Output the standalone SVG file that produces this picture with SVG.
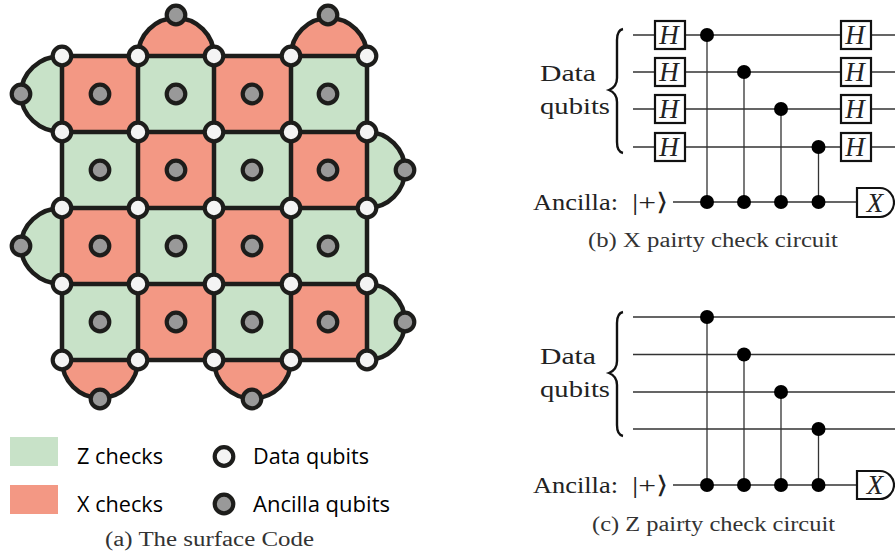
<svg xmlns="http://www.w3.org/2000/svg" width="895" height="558" viewBox="0 0 895 558">
<style>
.z{fill:#c8e2c8}.x{fill:#f39884}
.edge{fill:none;stroke:#1d1d1b;stroke-width:4.5}
.d{fill:#f4f4f4;stroke:#1d1d1b;stroke-width:4.2}
.a{fill:#999;stroke:#1d1d1b;stroke-width:4.2}
.w{fill:none;stroke:#333;stroke-width:1.3}
.box{fill:#fff;stroke:#111;stroke-width:2.2}
.dot{fill:#000}
.b{fill:none;stroke:#111;stroke-width:2.4}
.cm{font-family:"Liberation Serif",serif;fill:#222;font-size:24px}
.cap{font-family:"Liberation Serif",serif;fill:#333;font-size:20px}
.h{font-family:"Liberation Serif",serif;font-style:italic;font-size:27px;fill:#222;text-anchor:middle}
.leg{font-family:"Open Sans",sans-serif;font-size:21.5px;fill:#000}
</style>
<g id="plaquettes">
<path class="x" d="M138 56A38 38 0 0 1 214 56Z"/><path class="x" d="M291 56A38 38 0 0 1 367 56Z"/>
<path class="z" d="M62 56A41 38 0 0 0 62 132Z"/><path class="z" d="M62 208A41 38 0 0 0 62 284Z"/>
<path class="z" d="M367 132A38 38 0 0 1 367 208Z"/><path class="z" d="M367 284A38 38 0 0 1 367 360Z"/>
<path class="x" d="M62 360A38 38 0 0 0 138 360Z"/><path class="x" d="M214 360A38 38 0 0 0 291 360Z"/>
<rect class="x" x="62" y="56" width="76" height="76"/><rect class="z" x="138" y="56" width="76" height="76"/><rect class="x" x="214" y="56" width="77" height="76"/><rect class="z" x="291" y="56" width="76" height="76"/>
<rect class="z" x="62" y="132" width="76" height="76"/><rect class="x" x="138" y="132" width="76" height="76"/><rect class="z" x="214" y="132" width="77" height="76"/><rect class="x" x="291" y="132" width="76" height="76"/>
<rect class="x" x="62" y="208" width="76" height="76"/><rect class="z" x="138" y="208" width="76" height="76"/><rect class="x" x="214" y="208" width="77" height="76"/><rect class="z" x="291" y="208" width="76" height="76"/>
<rect class="z" x="62" y="284" width="76" height="76"/><rect class="x" x="138" y="284" width="76" height="76"/><rect class="z" x="214" y="284" width="77" height="76"/><rect class="x" x="291" y="284" width="76" height="76"/>
</g>
<g id="connectors">
<path class="edge" d="M62 56H367M62 132H367M62 208H367M62 284H367M62 360H367M62 56V360M138 56V360M214 56V360M291 56V360M367 56V360"/>
<path class="edge" d="M138 56A38 38 0 0 1 214 56M291 56A38 38 0 0 1 367 56M62 56A41 38 0 0 0 62 132M62 208A41 38 0 0 0 62 284M367 132A38 38 0 0 1 367 208M367 284A38 38 0 0 1 367 360M62 360A38 38 0 0 0 138 360M214 360A38 38 0 0 0 291 360"/>
</g>
<g id="data-qubits">
<circle class="d" cx="62" cy="56" r="9.3"/><circle class="d" cx="138" cy="56" r="9.3"/><circle class="d" cx="214" cy="56" r="9.3"/><circle class="d" cx="291" cy="56" r="9.3"/><circle class="d" cx="367" cy="56" r="9.3"/>
<circle class="d" cx="62" cy="132" r="9.3"/><circle class="d" cx="138" cy="132" r="9.3"/><circle class="d" cx="214" cy="132" r="9.3"/><circle class="d" cx="291" cy="132" r="9.3"/><circle class="d" cx="367" cy="132" r="9.3"/>
<circle class="d" cx="62" cy="208" r="9.3"/><circle class="d" cx="138" cy="208" r="9.3"/><circle class="d" cx="214" cy="208" r="9.3"/><circle class="d" cx="291" cy="208" r="9.3"/><circle class="d" cx="367" cy="208" r="9.3"/>
<circle class="d" cx="62" cy="284" r="9.3"/><circle class="d" cx="138" cy="284" r="9.3"/><circle class="d" cx="214" cy="284" r="9.3"/><circle class="d" cx="291" cy="284" r="9.3"/><circle class="d" cx="367" cy="284" r="9.3"/>
<circle class="d" cx="62" cy="360" r="9.3"/><circle class="d" cx="138" cy="360" r="9.3"/><circle class="d" cx="214" cy="360" r="9.3"/><circle class="d" cx="291" cy="360" r="9.3"/><circle class="d" cx="367" cy="360" r="9.3"/>
</g>
<g id="ancilla-qubits">
<circle class="a" cx="176" cy="15" r="9.3"/><circle class="a" cx="328" cy="15" r="9.3"/>
<circle class="a" cx="21" cy="94" r="9.3"/><circle class="a" cx="21" cy="246" r="9.3"/>
<circle class="a" cx="405" cy="170" r="9.3"/><circle class="a" cx="405" cy="322" r="9.3"/>
<circle class="a" cx="100" cy="399" r="9.3"/><circle class="a" cx="252" cy="399" r="9.3"/>
<circle class="a" cx="100" cy="94" r="9.3"/><circle class="a" cx="176" cy="94" r="9.3"/><circle class="a" cx="252" cy="94" r="9.3"/><circle class="a" cx="328" cy="94" r="9.3"/>
<circle class="a" cx="100" cy="170" r="9.3"/><circle class="a" cx="176" cy="170" r="9.3"/><circle class="a" cx="252" cy="170" r="9.3"/><circle class="a" cx="328" cy="170" r="9.3"/>
<circle class="a" cx="100" cy="246" r="9.3"/><circle class="a" cx="176" cy="246" r="9.3"/><circle class="a" cx="252" cy="246" r="9.3"/><circle class="a" cx="328" cy="246" r="9.3"/>
<circle class="a" cx="100" cy="322" r="9.3"/><circle class="a" cx="176" cy="322" r="9.3"/><circle class="a" cx="252" cy="322" r="9.3"/><circle class="a" cx="328" cy="322" r="9.3"/>
</g>
<g id="legend">
<rect class="z" x="10" y="437" width="48" height="29"/><rect class="x" x="10" y="485" width="48" height="29"/>
<circle class="d" cx="224" cy="456.500" r="9.300"/><circle class="a" cx="224" cy="504" r="9.300"/>
<text class="leg" x="77" y="464" textLength="86" lengthAdjust="spacingAndGlyphs">Z checks</text>
<text class="leg" x="77" y="512" textLength="86" lengthAdjust="spacingAndGlyphs">X checks</text>
<text class="leg" x="253" y="464" textLength="116" lengthAdjust="spacingAndGlyphs">Data qubits</text>
<text class="leg" x="253" y="512" textLength="137" lengthAdjust="spacingAndGlyphs">Ancilla qubits</text>
<text class="cap" x="105" y="546" textLength="209" lengthAdjust="spacingAndGlyphs">(a) The surface Code</text>
</g>
<g id="circuit-b">
<path class="w" d="M633 35H895M633 72H895M633 109H895M633 147H895M673 202H857M707 35V202M744 72V202M781 109V202M818.500 147V202"/>
<g class="dot"><circle cx="707" cy="35" r="7"/><circle cx="744" cy="72" r="7"/><circle cx="781" cy="109" r="7"/><circle cx="818.500" cy="147" r="7"/><circle cx="707" cy="202" r="7"/><circle cx="744" cy="202" r="7"/><circle cx="781" cy="202" r="7"/><circle cx="818.500" cy="202" r="7"/></g>
<g id="h-gates-b">
<rect class="box" x="655" y="21" width="30" height="28"/><rect class="box" x="655" y="58" width="30" height="28"/><rect class="box" x="655" y="95" width="30" height="28"/><rect class="box" x="655" y="133" width="30" height="28"/>
<rect class="box" x="841" y="21" width="30" height="28"/><rect class="box" x="841" y="58" width="30" height="28"/><rect class="box" x="841" y="95" width="30" height="28"/><rect class="box" x="841" y="133" width="30" height="28"/>
<text class="h" x="669" y="44">H</text><text class="h" x="669" y="81">H</text><text class="h" x="669" y="118">H</text><text class="h" x="669" y="156">H</text>
<text class="h" x="855" y="44">H</text><text class="h" x="855" y="81">H</text><text class="h" x="855" y="118">H</text><text class="h" x="855" y="156">H</text>
</g>
<path class="box" d="M857 188H880C888 188 894 195 894 202.500C894 210 888 217 880 217H857Z"/>
<text class="h" x="875" y="212">X</text>
<path class="b" d="M623 29C618 30 617 34 617 40V78C617 84 614 88 609 90C614 92 617 96 617 102V142C617 148 618 152 623 153"/>
<text class="cm" x="540" y="81" textLength="56" lengthAdjust="spacingAndGlyphs">Data</text>
<text class="cm" x="540" y="113.500" textLength="70" lengthAdjust="spacingAndGlyphs">qubits</text>
<text class="cm" x="533" y="210" textLength="85" lengthAdjust="spacingAndGlyphs">Ancilla:</text>
<text class="cm" x="632" y="210" textLength="36" lengthAdjust="spacingAndGlyphs">|+⟩</text>
<text class="cap" x="588" y="247" textLength="250" lengthAdjust="spacingAndGlyphs">(b) X pairty check circuit</text>
</g>
<g id="circuit-c">
<path class="w" d="M633 317H895M633 354.500H895M633 392H895M633 429H895M673 485H857M707 317V485M744 354.500V485M781 392V485M818.500 429V485"/>
<g class="dot"><circle cx="707" cy="317" r="7"/><circle cx="744" cy="354.500" r="7"/><circle cx="781" cy="392" r="7"/><circle cx="818.500" cy="429" r="7"/><circle cx="707" cy="485" r="7"/><circle cx="744" cy="485" r="7"/><circle cx="781" cy="485" r="7"/><circle cx="818.500" cy="485" r="7"/></g>
<path class="box" d="M857 471H880C888 471 894 478 894 485C894 492 888 499 880 499H857Z"/>
<text class="h" x="875" y="494">X</text>
<path class="b" d="M623 312C618 313 617 317 617 323V361C617 367 614 371 609 373C614 375 617 379 617 385V425C617 431 618 435 623 436"/>
<text class="cm" x="540" y="364" textLength="56" lengthAdjust="spacingAndGlyphs">Data</text>
<text class="cm" x="540" y="396.500" textLength="70" lengthAdjust="spacingAndGlyphs">qubits</text>
<text class="cm" x="533" y="493" textLength="85" lengthAdjust="spacingAndGlyphs">Ancilla:</text>
<text class="cm" x="632" y="493" textLength="36" lengthAdjust="spacingAndGlyphs">|+⟩</text>
<text class="cap" x="592" y="531" textLength="243" lengthAdjust="spacingAndGlyphs">(c) Z pairty check circuit</text>
</g>
</svg>
